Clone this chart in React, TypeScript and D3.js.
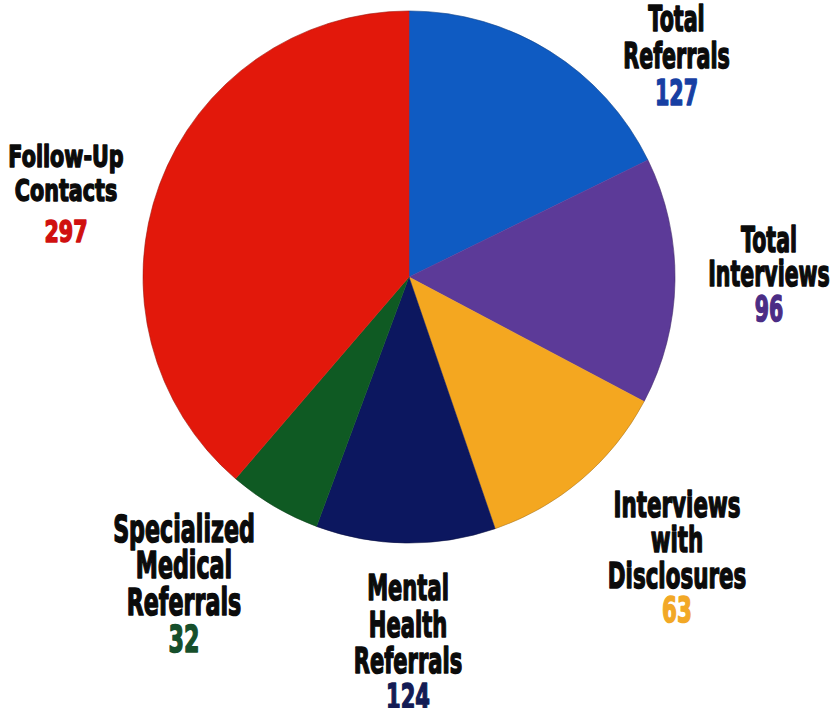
import React, { useEffect, useRef } from 'react';
import * as d3 from 'd3';

const CATEGORIES = [
  'Total Referrals',
  'Total Interviews',
  'Interviews with Disclosures',
  'Mental Health Referrals',
  'Specialized Medical Referrals',
  'Follow-Up Contacts',
];
const COUNTS = [127, 96, 63, 124, 32, 297];
// slice sizes as drawn, in % of the circle (the graphic does not size them by COUNTS)
const SLICE_SHARES = [17.75, 15.0, 12.0, 10.9, 5.65, 38.7];
const LABEL_LINES = [
  ['Total', 'Referrals'],
  ['Total', 'Interviews'],
  ['Interviews', 'with', 'Disclosures'],
  ['Mental', 'Health', 'Referrals'],
  ['Specialized', 'Medical', 'Referrals'],
  ['Follow-Up', 'Contacts'],
];

const SLICE_COLORS = ['#0f5bc2', '#5c3a98', '#f4a720', '#0c175f', '#0f5a23', '#e2180b'];
const COUNT_COLORS = ['#173fa3', '#4b2d85', '#f2a826', '#141c55', '#164f2b', '#d0100f'];

// hand placed labels: centre x, baseline of each line, font size, horizontal squeeze
const LABEL_POS = [
  { x: 676.5, ys: [30.7, 68.3, 105], size: 35, sx: 0.59 },
  { x: 769, ys: [251.7, 286, 320.7], size: 36, sx: 0.57 },
  { x: 677, ys: [516.7, 551.7, 588.3, 621.7], size: 36, sx: 0.595 },
  { x: 408, ys: [600, 636.7, 673, 709], size: 36, sx: 0.585 },
  { x: 184, ys: [541.7, 578, 615, 652], size: 37, sx: 0.6 },
  { x: 66, ys: [166.7, 201, 241.7], size: 30, sx: 0.69 },
];

const W = 834;
const H = 708;

export default function App() {
  const ref = useRef<SVGSVGElement | null>(null);

  useEffect(() => {
    const svg = d3.select(ref.current);
    svg.selectAll('*').remove();

    const cx = 409;
    const cy = 277;
    const r = 266;

    const pie = d3.pie<number>().sort(null).value((d) => d);
    const arcs = pie(SLICE_SHARES);
    const arc = d3.arc<d3.PieArcDatum<number>>().innerRadius(0).outerRadius(r);

    const g = svg.append('g').attr('transform', `translate(${cx},${cy})`);
    g.selectAll('path')
      .data(arcs)
      .join('path')
      .attr('d', arc)
      .attr('fill', (_d, i) => SLICE_COLORS[i])
      .attr('stroke', (_d, i) => SLICE_COLORS[i])
      .attr('stroke-width', 0.5);

    // faint rim
    g.append('circle')
      .attr('r', r)
      .attr('fill', 'none')
      .attr('stroke', 'rgba(0,0,0,0.18)')
      .attr('stroke-width', 1);

    CATEGORIES.forEach((cat, i) => {
      const pos = LABEL_POS[i];
      const lines = [...LABEL_LINES[i], String(COUNTS[i])];
      const lg = svg.append('g').attr('class', 'label').attr('data-category', cat);
      lines.forEach((line, j) => {
        const isCount = j === lines.length - 1;
        const color = isCount ? COUNT_COLORS[i] : '#0b0b0b';
        lg.append('text')
          .attr('transform', `translate(${pos.x},${pos.ys[j]}) scale(${pos.sx},1)`)
          .attr('text-anchor', 'middle')
          .attr('font-family', '"DejaVu Sans", sans-serif')
          .attr('font-weight', 'bold')
          .attr('font-size', pos.size)
          .attr('fill', color)
          .attr('stroke', color)
          .attr('stroke-width', 1.6)
          .attr('stroke-linejoin', 'round')
          .text(line);
      });
    });
  }, []);

  return (
    <svg
      ref={ref}
      width={W}
      height={H}
      viewBox={`0 0 ${W} ${H}`}
      style={{ position: 'absolute', left: 0, top: 0, background: '#fff', display: 'block' }}
    />
  );
}
